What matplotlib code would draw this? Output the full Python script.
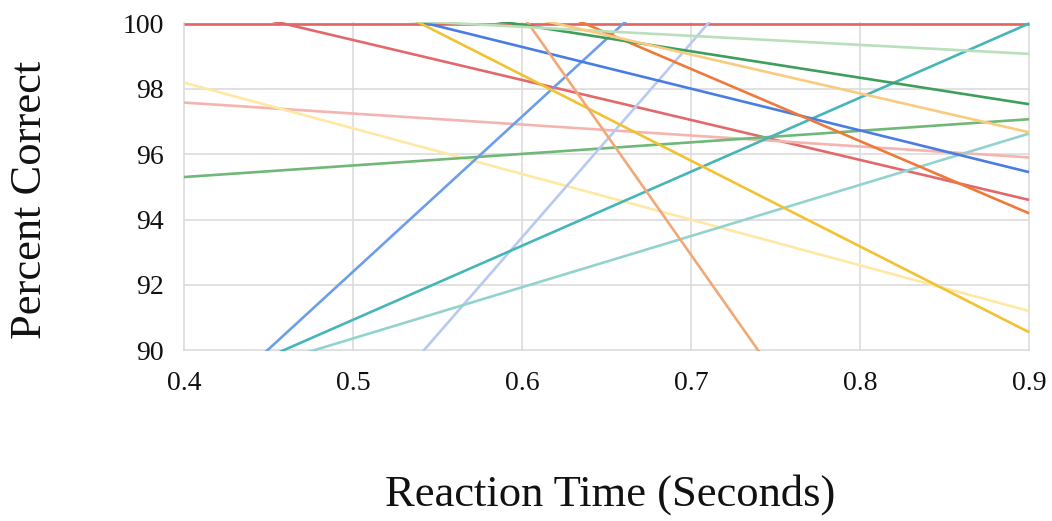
import matplotlib
matplotlib.use('Agg')
import matplotlib.pyplot as plt

# x range of the fitted lines
x_ends = [0.4, 0.9]

# value of each fitted line at x = 0.4 and at x = 0.9 (clipped by the axes)
y_start = [100.0, 100.72, 97.58, 98.19, 95.30, 87.65, 81.55, 88.66,
           88.79, 101.84, 103.68, 115.0, 105.24, 101.58, 100.45, 102.62]
y_end = [100.0, 94.60, 95.90, 91.20, 97.07, 111.4, 111.3, 100.0,
         96.63, 95.45, 90.55, 78.2, 94.19, 97.53, 99.07, 96.67]

cores = ['#e06666', '#e3686c', '#f4b4b0', '#ffe8a3', '#6fb877', '#6d9eeb',
         '#b8c9f2', '#46b5b8', '#93d3cf', '#4a7de3', '#f1c232', '#f0a877',
         '#ee7a3a', '#3f9e5c', '#b9dfbb', '#f9cb80']

x_ticks = [0.4, 0.5, 0.6, 0.7, 0.8, 0.9]
y_ticks = [90, 92, 94, 96, 98, 100]

plt.rcParams['font.family'] = ['Liberation Serif', 'DejaVu Serif']

fig = plt.figure(figsize=(10.52, 5.21), dpi=100)
ax = fig.add_axes([0.174, 0.326, 0.805, 0.632])

for y0, y1, c in zip(y_start, y_end, cores):
    ax.plot(x_ends, [y0, y1], color=c, linewidth=1.9, solid_capstyle='butt')

ax.set_xlim(0.3995, 0.9005)
ax.set_ylim(89.97, 100.05)
ax.set_xticks(x_ticks)
ax.set_xticklabels([str(v) for v in x_ticks])
ax.set_yticks(y_ticks)
ax.grid(True, color='#dcdcdc', linewidth=1.2)
ax.set_axisbelow(True)
for s in ax.spines.values():
    s.set_visible(False)
ax.tick_params(axis='both', length=0, labelsize=20, colors='#111111')
ax.tick_params(axis='y', pad=14)
ax.tick_params(axis='x', pad=14)

fig.text(30 / 1052, 1 - 200 / 521, 'Percent Correct', rotation=90,
         ha='center', va='center', fontsize=32, color='#111111')
fig.text(610 / 1052, 1 - 495 / 521, 'Reaction Time (Seconds)',
         ha='center', va='center', fontsize=32, color='#111111')

fig.savefig('out.png', dpi=100)
